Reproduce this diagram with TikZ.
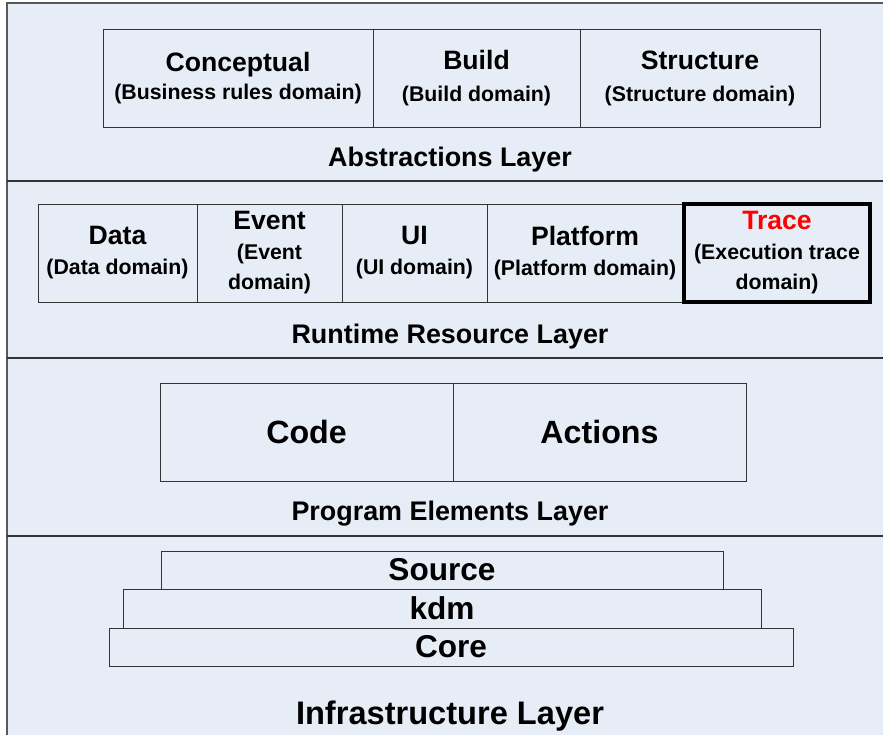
\documentclass[tikz,border=0pt]{standalone}
\usepackage{fontspec}
\setmainfont{Liberation Sans}
\begin{document}
\begin{tikzpicture}[x=1pt,y=-1pt,
  box/.style={draw=black!80, line width=0.9pt, rectangle, inner sep=0pt, align=center, font=\fontsize{21.3}{30}\selectfont\bfseries},
  layerlbl/.style={font=\fontsize{26.9}{30}\selectfont\bfseries, inner sep=0pt},
  sep/.style={draw=black!80, line width=2pt}]
\definecolor{bgblue}{HTML}{E7EDF7}
\useasboundingbox (0,0) rectangle (883,735);
\fill[bgblue] (7,3) rectangle (890,740);
\draw[black!65, line width=1.5pt] (7,740) -- (7,3) -- (890,3);
\draw[sep] (7,181) -- (890,181);
\draw[sep] (7,358) -- (890,358);
\draw[sep] (7,536) -- (890,536);
\newcommand{\ttl}[1]{{\fontsize{26.6}{30}\selectfont #1}}
% Abstractions layer
\node[box, minimum width=270pt, minimum height=98pt] (concept) at (238,78)
  {\ttl{Conceptual}\\[-2pt](Business rules domain)};
\node[box, minimum width=207pt, minimum height=98pt] (build) at (476.5,78)
  {\ttl{Build}\\[2pt](Build domain)};
\node[box, minimum width=240pt, minimum height=98pt] (struct) at (700,78)
  {\ttl{Structure}\\[2pt](Structure domain)};
\node[layerlbl] (abs) at (450,160) {Abstractions Layer};
% Runtime resource layer
\node[box, minimum width=159pt, minimum height=98pt] (data) at (117.5,253)
  {\ttl{Data}\\(Data domain)};
\node[box, minimum width=145pt, minimum height=98pt] (event) at (269.5,253)
  {\ttl{Event}\\(Event\\domain)};
\node[box, minimum width=145pt, minimum height=98pt] (ui) at (414.5,253)
  {\ttl{UI}\\(UI domain)};
\node[box, minimum width=196pt, minimum height=98pt] (platform) at (585,253)
  {\ttl{Platform}\\(Platform domain)};
\node[box, draw=black, line width=3.5pt, minimum width=186pt, minimum height=98pt] (trace) at (777,253)
  {\textcolor{red}{\ttl{Trace}}\\(Execution trace\\domain)};
\node[layerlbl] (rt) at (450,337) {Runtime Resource Layer};
% Program elements layer
\node[box, minimum width=293pt, minimum height=98pt, font=\fontsize{32.2}{36}\selectfont\bfseries] (code) at (306.5,432) {Code};
\node[box, minimum width=293pt, minimum height=98pt, font=\fontsize{32.2}{36}\selectfont\bfseries] (actions) at (599.5,432) {Actions};
\node[layerlbl] (pe) at (450,514) {Program Elements Layer};
% Infrastructure layer
\node[box, minimum width=684pt, minimum height=38pt, font=\fontsize{31.6}{34}\selectfont\bfseries] (core) at (451,647) {Core};
\node[box, minimum width=638pt, minimum height=39pt, font=\fontsize{31.6}{34}\selectfont\bfseries] (kdm) at (442,608.5) {kdm};
\node[box, minimum width=562pt, minimum height=38pt, font=\fontsize{31.6}{34}\selectfont\bfseries] (source) at (442,570) {Source};
\node[layerlbl, font=\fontsize{32.6}{36}\selectfont\bfseries] (inf) at (450,716) {Infrastructure Layer};
\end{tikzpicture}
\end{document}
